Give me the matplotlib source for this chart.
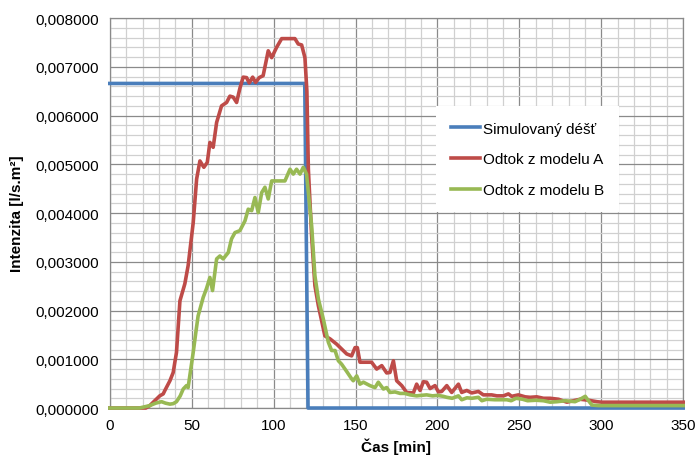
import matplotlib.pyplot as plt
from matplotlib.ticker import MultipleLocator, FuncFormatter

plt.rcParams['font.family'] = ['Liberation Sans', 'DejaVu Sans']

# simulated rain [min], [l/s.m2 * 1e-3]
rain_t = [0, 119, 121, 350]
rain_v = [6.66, 6.66, 0, 0]

# model A outflow
a_t = [0, 22, 24.4, 30.5, 32.6, 33.6, 36.7, 38.7, 39.7, 40.7, 42.8, 45.8, 47.8, 50.9, 53, 55,
       57.4, 59.5, 61.1, 63.1, 65.2, 68.2, 71.3, 73.3, 75.3, 77.4, 79.4, 81.4, 83.5, 85.1,
       87.2, 89, 91.2, 93.6, 96.7, 98.8, 101.8, 104.9, 113, 115, 117.1, 119.1, 120.3, 121.2,
       123.2, 125.2, 127.3, 131.3, 134.4, 138.5, 144.6, 147.6, 149.7, 151.1, 152.7, 159.8,
       162.9, 166, 169, 171, 173.1, 175.1, 178.2, 181.2, 185.3, 187.3, 189.4, 191.4, 193.4,
       195.5, 198.5, 200.6, 202.6, 205.7, 208.7, 212.8, 214.8, 217.9, 220.9, 225, 228, 233.1,
       236.2, 240.3, 243.3, 245.3, 249.4, 253.5, 256.6, 260.6, 264.7, 268.8, 273.9, 279, 283,
       287.1, 292.2, 297.3, 300.3, 350]
a_v = [0, 0, 0.05, 0.25, 0.29, 0.36, 0.56, 0.73, 0.94, 1.14, 2.2, 2.55, 2.92, 3.8, 4.70, 5.07,
       4.94, 5.04, 5.45, 5.35, 5.86, 6.20, 6.27, 6.40, 6.38, 6.27, 6.56, 6.79, 6.78, 6.67,
       6.79, 6.68, 6.78, 6.82, 7.33, 7.19, 7.40, 7.58, 7.58, 7.47, 7.45, 7.19, 6.5, 4.9,
       3.53, 2.51, 2.1, 1.48, 1.42, 1.31, 1.11, 1.07, 1.24, 1.24, 0.94, 0.94,
       0.80, 0.87, 0.72, 0.73, 0.97, 0.56, 0.46, 0.32, 0.31, 0.49, 0.36, 0.54, 0.53,
       0.40, 0.46, 0.33, 0.34, 0.46, 0.32, 0.49, 0.32, 0.36, 0.31, 0.34, 0.27, 0.27,
       0.25, 0.25, 0.29, 0.24, 0.27, 0.23, 0.22, 0.23, 0.20, 0.20, 0.18, 0.12, 0.15,
       0.18, 0.16, 0.13, 0.12, 0.12]

# model B outflow
b_t = [0, 18, 24.4, 28, 31.6, 34, 36.7, 38.7, 40.7, 43, 44.8, 46.8, 47.8, 49, 50.9, 52.5, 53.9,
       57, 59, 61.1, 62.7, 65.2, 67.2, 69.2, 72.3, 74.3, 76.4, 79.4, 82.5, 84.5, 86.6, 88.6,
       90.6, 92.7, 94.7, 96.7, 98.8, 106.9, 110, 112, 114, 116.1, 118.1, 120.1, 121.2, 123.2,
       125.2, 127.3, 130.3, 133.4, 135.4, 137.5, 139.5, 141.5, 144.6, 147.6, 148.6, 150.7,
       152.7, 154.8, 158.8, 161.9, 163.9, 167, 169, 171, 174.1, 177.2, 180, 183.3, 187.3, 190,
       193.4, 197, 200, 203.6, 205.7, 209, 212.8, 214.8, 218, 221, 225, 227.1, 230, 235, 242.3,
       245, 248, 252, 255, 260, 264.7, 268.8, 273, 278, 284, 287.1, 290.2, 292.2, 294.3, 298.3,
       350]
b_v = [0, 0, 0.05, 0.10, 0.13, 0.10, 0.08, 0.09, 0.13, 0.25, 0.39, 0.46, 0.42, 0.70, 1.14, 1.55, 1.89,
       2.27, 2.45, 2.68, 2.41, 3.06, 3.12, 3.06, 3.19, 3.47, 3.60, 3.64, 3.84, 4.08, 4.05, 4.32,
       4.01, 4.42, 4.53, 4.29, 4.66, 4.66, 4.90, 4.80, 4.90, 4.80, 4.94, 4.80, 4.42, 3.74,
       2.71, 2.24, 1.83, 1.35, 1.18, 1.18, 0.97, 0.90, 0.75, 0.60, 0.56, 0.66,
       0.49, 0.53, 0.46, 0.42, 0.53, 0.39, 0.42, 0.32, 0.33, 0.30, 0.30, 0.27, 0.25, 0.26,
       0.27, 0.25, 0.26, 0.24, 0.22, 0.20, 0.25, 0.17, 0.21, 0.20, 0.22, 0.15, 0.18, 0.17, 0.17,
       0.15, 0.20, 0.18, 0.15, 0.16, 0.15, 0.12, 0.13, 0.15, 0.13, 0.18, 0.24, 0.15, 0.06, 0.05,
       0.05]

labels = ['Simulovaný déšť', 'Odtok z modelu A', 'Odtok z modelu B']
colors = ['#4a7ebb', '#be4b48', '#98b954']

fig = plt.figure(figsize=(6.95, 4.56), dpi=100)
ax = fig.add_axes([0.158, 0.103, 0.825, 0.855])

for t, v, lab, c in zip([rain_t, a_t, b_t], [rain_v, a_v, b_v], labels, colors):
    ax.plot(t, [x * 1e-3 for x in v], color=c, lw=2.6, label=lab, clip_on=False, zorder=3)

ax.set_xlim(0, 350)
ax.set_ylim(0, 0.008)
ax.xaxis.set_major_locator(MultipleLocator(50))
ax.xaxis.set_minor_locator(MultipleLocator(10))
ax.yaxis.set_major_locator(MultipleLocator(0.001))
ax.yaxis.set_minor_locator(MultipleLocator(0.0002))
ax.yaxis.set_major_formatter(FuncFormatter(lambda v, p: f'{v:.6f}'.replace('.', ',')))

ax.grid(which='minor', color='#d0d0d0', lw=0.9)
ax.grid(which='major', color='#8a8a8a', lw=0.9)
ax.set_axisbelow(True)
ax.tick_params(which='both', length=0, labelsize=11)
ax.tick_params(axis='y', pad=8)
ax.tick_params(axis='x', pad=7)
for s in ax.spines.values():
    s.set_color('#8a8a8a')
    s.set_linewidth(0.9)

ax.set_xlabel('Čas [min]', fontsize=11, fontweight='bold', labelpad=4)
ax.set_ylabel('Intenzita [l/s.m²]', fontsize=11, fontweight='bold', labelpad=8)

leg = ax.legend(loc='upper left', bbox_to_anchor=(0.569, 0.774), borderaxespad=0,
                fontsize=11, frameon=True, fancybox=False, framealpha=1,
                handlelength=1.9, handletextpad=0.15, labelspacing=1.1, borderpad=1.0)
leg.get_frame().set_edgecolor('white')
leg.get_frame().set_linewidth(0)

fig.savefig('out.png', dpi=100)
